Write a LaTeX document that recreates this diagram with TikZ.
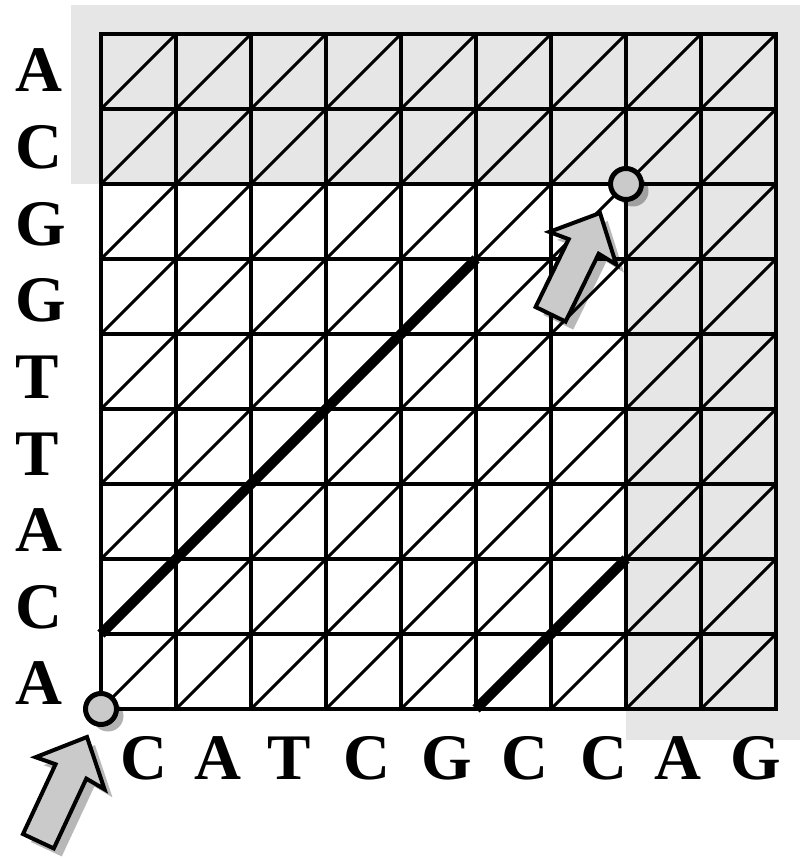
\documentclass[tikz,border=0pt]{standalone}
\usepackage{fontspec}
\setmainfont{Liberation Serif}
\usetikzlibrary{shadows}
\definecolor{bggray}{RGB}{230,230,230}
\definecolor{markgray}{RGB}{202,202,202}
\begin{document}
\begin{tikzpicture}[x=1pt,y=-1pt,
  gridline/.style={line width=3.8pt, line cap=rect},
  diagline/.style={line width=3pt},
  matchline/.style={line width=10pt, line cap=butt},
  lbl/.style={font=\fontsize{65}{65}\selectfont\bfseries, inner sep=0pt},
  endpoint/.style={circle, draw=black, line width=5pt, fill=markgray,
    minimum size=31pt, inner sep=0pt,
    drop shadow={shadow xshift=7pt, shadow yshift=-7pt, fill=black, opacity=0.3}},
  arrowbody/.style={draw=black, line width=4pt, line join=miter, fill=markgray},
  arrowshadow/.style={fill=black, opacity=0.28},
  blockarrow/.pic={
    \fill[arrowshadow, shift={(-3.9pt,-10.6pt)}] (0pt,0pt) -- (-40pt,-38pt) -- (-38pt,-17pt) -- (-115pt,-17pt) -- (-115pt,17pt) -- (-38pt,17pt) -- (-40pt,38pt) -- cycle;
    \draw[arrowbody] (0pt,0pt) -- (-40pt,-38pt) -- (-38pt,-17pt) -- (-115pt,-17pt) -- (-115pt,17pt) -- (-38pt,17pt) -- (-40pt,38pt) -- cycle;
  }]
\useasboundingbox (0,0) rectangle (800,858);
% shaded regions
\fill[bggray] (71,5) rectangle (800,184);
\fill[bggray] (626,184) rectangle (800,740);
% diagonals
\foreach \i in {0,...,8} \foreach \j in {0,...,8}
  \draw[diagline] ({101+75*\i},{109+75*\j}) -- ({176+75*\i},{34+75*\j});
% grid
\foreach \i in {0,...,9} {
  \draw[gridline] ({101+75*\i},34) -- ({101+75*\i},709);
  \draw[gridline] (101,{34+75*\i}) -- (776,{34+75*\i});
}
% matches
\coordinate (m1s) at (101,634);
\coordinate (m1e) at (476,259);
\coordinate (m2s) at (476,709);
\coordinate (m2e) at (626,559);
\draw[matchline] (m1s) -- (m1e);
\draw[matchline] (m2s) -- (m2e);
% end points
\node[endpoint] (start) at (101,709) {};
\node[endpoint] (stop) at (626,184) {};
% arrows
\pic[rotate=65] (arrowA) at (87,737) {blockarrow};
\pic[rotate=64, scale=0.98] (arrowB) at (600,213) {blockarrow};
% left labels
\foreach \t [count=\k from 0] in {A,C,G,G,T,T,A,C,A}
  \node[lbl, anchor=base west] (row\k) at (15,{92+76.6*\k}) {\t};
% bottom labels
\foreach \t/\x [count=\k from 0] in {C/144,A/218,T/289.5,C/366.5,G/446.5,C/525,C/604,A/678,G/756}
  \node[lbl, anchor=base] (col\k) at (\x,779) {\t};
\end{tikzpicture}
\end{document}
